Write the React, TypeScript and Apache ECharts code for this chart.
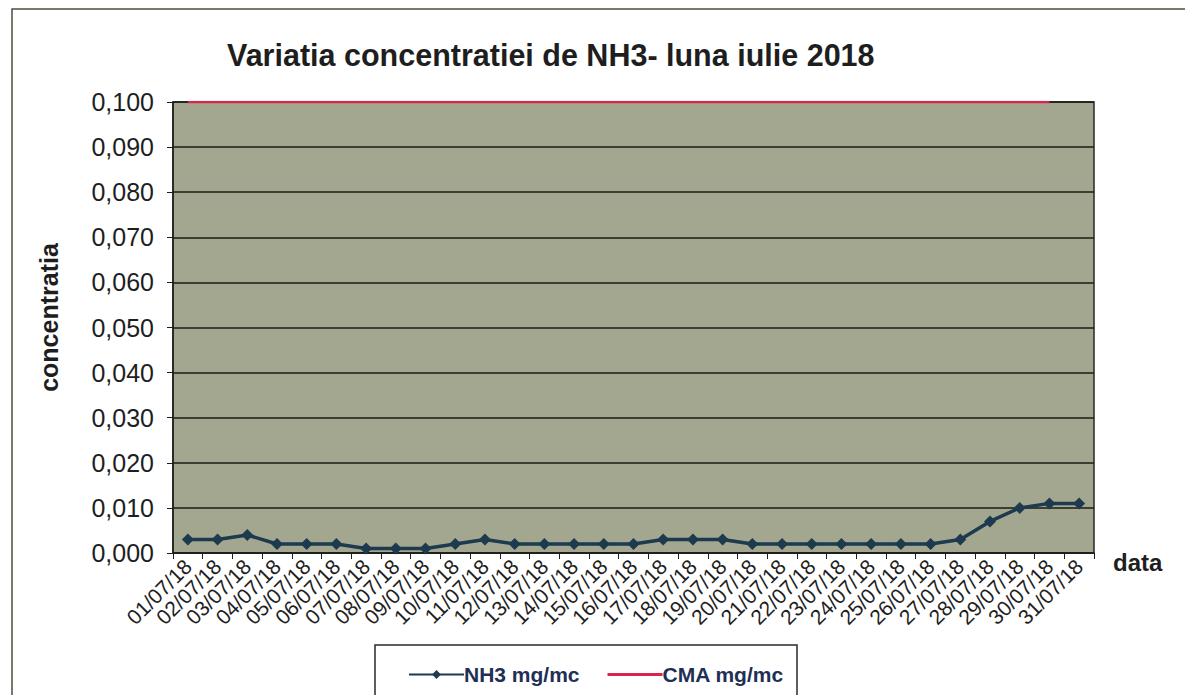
import React, { useEffect, useRef } from "react";
import * as echarts from "echarts";

const titleText = "Variatia concentratiei de NH3- luna iulie 2018";
const categories = [
  "01/07/18", "02/07/18", "03/07/18", "04/07/18", "05/07/18", "06/07/18", "07/07/18", "08/07/18",
  "09/07/18", "10/07/18", "11/07/18", "12/07/18", "13/07/18", "14/07/18", "15/07/18", "16/07/18",
  "17/07/18", "18/07/18", "19/07/18", "20/07/18", "21/07/18", "22/07/18", "23/07/18", "24/07/18",
  "25/07/18", "26/07/18", "27/07/18", "28/07/18", "29/07/18", "30/07/18", "31/07/18",
];
const nh3Values = [
  0.003, 0.003, 0.004, 0.002, 0.002, 0.002, 0.001, 0.001, 0.001, 0.002, 0.003, 0.002, 0.002, 0.002,
  0.002, 0.002, 0.003, 0.003, 0.003, 0.002, 0.002, 0.002, 0.002, 0.002, 0.002, 0.002, 0.003, 0.007,
  0.010, 0.011, 0.011,
];
const cmaValues = [
  0.1, 0.1, 0.1, 0.1, 0.1, 0.1, 0.1, 0.1, 0.1, 0.1, 0.1, 0.1, 0.1, 0.1, 0.1,
  0.1, 0.1, 0.1, 0.1, 0.1, 0.1, 0.1, 0.1, 0.1, 0.1, 0.1, 0.1, 0.1, 0.1, 0.1,
];
const seriesNames = ["NH3 mg/mc", "CMA mg/mc"];
const yAxisName = "concentratia";
const xAxisName = "data";

const FONT = "'Liberation Sans', Arial, sans-serif";

export default function App() {
  const ref = useRef<HTMLDivElement>(null);
  useEffect(() => {
    document.body.style.margin = "0";
    if (!ref.current) return;
    const chart = echarts.init(ref.current, null, { renderer: "svg" });
    chart.setOption({
      animation: false,
      backgroundColor: "#ffffff",
      textStyle: { fontFamily: FONT },
      title: {
        text: titleText,
        left: 222,
        top: 34,
        textStyle: { fontFamily: FONT, fontSize: 30.5, fontWeight: "bold", color: "#1e1e1e" },
      },
      graphic: [
        {
          type: "rect",
          shape: { x: 12, y: 9, width: 1200, height: 720 },
          style: { fill: "none", stroke: "#4a5040", lineWidth: 1.5 },
          silent: true,
          z: -1,
        },
        {
          type: "rect",
          shape: { x: 375, y: 645, width: 422, height: 80 },
          style: { fill: "#ffffff", stroke: "#2a2a2a", lineWidth: 1.5 },
          silent: true,
          z: 1,
        },
      ],
      legend: {
        data: [
          { name: seriesNames[0] },
          { name: seriesNames[1], icon: "path://M0,0 L55,0 L55,3 L0,3 Z" },
        ],
        left: 403,
        top: 659,
        itemWidth: 55,
        itemHeight: 11,
        itemGap: 28,
        z: 10,
        textStyle: { fontFamily: FONT, fontSize: 21, fontWeight: "bold", color: "#1f2f55", padding: [0, 0, 0, -5] },
      },
      grid: {
        left: 173,
        top: 102,
        right: 91,
        bottom: 142,
        show: true,
        backgroundColor: "#a3a790",
        borderColor: "#2a2a22",
        borderWidth: 1.5,
      },
      xAxis: {
        type: "category",
        data: categories,
        boundaryGap: true,
        name: xAxisName,
        nameLocation: "end",
        nameGap: 19,
        nameTextStyle: {
          fontFamily: FONT,
          fontSize: 24,
          fontWeight: "bold",
          color: "#1e1e1e",
          verticalAlign: "top",
          lineHeight: 24,
          padding: [-3, 0, 0, 0],
        },
        axisLine: { lineStyle: { color: "#1e1e1e", width: 1.5 } },
        axisTick: { show: true, length: 6, lineStyle: { color: "#1e1e1e" } },
        axisLabel: {
          rotate: 45,
          interval: 0,
          fontFamily: FONT,
          fontSize: 21,
          color: "#1e1e1e",
          margin: 10,
        },
      },
      yAxis: {
        type: "value",
        min: 0,
        max: 0.1,
        interval: 0.01,
        name: yAxisName,
        nameLocation: "middle",
        nameRotate: 90,
        nameGap: 112,
        nameTextStyle: {
          fontFamily: FONT,
          fontSize: 25,
          fontWeight: "bold",
          color: "#1e1e1e",
          padding: [0, 0, 0, 20],
        },
        axisLine: { show: true, lineStyle: { color: "#1e1e1e", width: 1.5 } },
        axisTick: { show: true, length: 6, lineStyle: { color: "#1e1e1e" } },
        axisLabel: {
          fontFamily: FONT,
          fontSize: 25,
          color: "#1e1e1e",
          margin: 19,
          formatter: (v: number) => v.toFixed(3).replace(".", ","),
        },
        splitLine: { show: true, lineStyle: { color: "#1a1a14", width: 1.5 } },
      },
      series: [
        {
          name: seriesNames[0],
          type: "line",
          data: nh3Values,
          symbol: "diamond",
          symbolSize: 12,
          lineStyle: { color: "#1d3a4e", width: 3.5 },
          itemStyle: { color: "#1d3a4e" },
          z: 3,
        },
        {
          name: seriesNames[1],
          type: "line",
          data: cmaValues,
          symbol: "none",
          lineStyle: { color: "#d8274a", width: 2.5 },
          itemStyle: { color: "#d8274a" },
          z: 4,
        },
      ],
    });
    return () => chart.dispose();
  }, []);
  return <div ref={ref} style={{ width: 1185, height: 695 }} />;
}
